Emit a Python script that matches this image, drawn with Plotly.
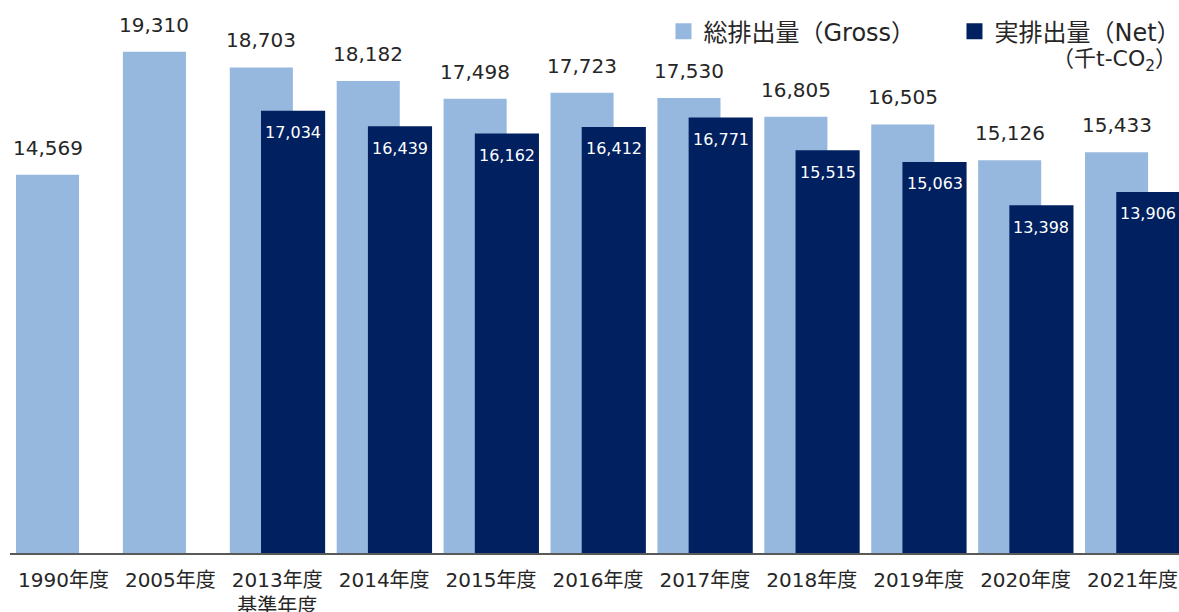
import plotly.graph_objects as go

years = ["1990年度", "2005年度", "2013年度<br>基準年度", "2014年度", "2015年度", "2016年度",
         "2017年度", "2018年度", "2019年度", "2020年度", "2021年度"]
gross = [14569, 19310, 18703, 18182, 17498, 17723, 17530, 16805, 16505, 15126, 15433]
net = [None, None, 17034, 16439, 16162, 16412, 16771, 15515, 15063, 13398, 13906]
unit_label = "（千t-CO<sub>2</sub>）"
gross_name = "総排出量（Gross）"
net_name = "実排出量（Net）"

GROSS_C = "#96B8DF"
NET_C = "#002060"
FONT = "DejaVu Sans, Noto Sans CJK JP"

xs = list(range(len(years)))

fig = go.Figure()
fig.add_trace(go.Bar(x=xs, y=gross, width=0.59, offset=-0.444,
                     marker=dict(color=GROSS_C, line=dict(width=0)),
                     showlegend=False, hoverinfo="y"))
nx = [x for x, v in zip(xs, net) if v is not None]
ny = [v for v in net if v is not None]
fig.add_trace(go.Bar(x=nx, y=ny, width=0.6, offset=-0.152,
                     marker=dict(color=NET_C, line=dict(width=0)),
                     showlegend=False, hoverinfo="y"))

# legend proxies
fig.add_trace(go.Scatter(x=[None], y=[None], mode="markers", name=gross_name,
                         marker=dict(symbol="square", size=16, color=GROSS_C)))
fig.add_trace(go.Scatter(x=[None], y=[None], mode="markers", name=net_name,
                         marker=dict(symbol="square", size=16, color=NET_C)))

annotations = []
for x, v in zip(xs, gross):
    annotations.append(dict(x=x - 0.444 + 0.295, y=v, xref="x", yref="y",
                            text=f"{v:,}", showarrow=False, yanchor="middle",
                            yshift=27, font=dict(size=20, color="#262626", family=FONT)))
for x, v in zip(nx, ny):
    annotations.append(dict(x=x - 0.152 + 0.3, y=v, xref="x", yref="y",
                            text=f"{v:,}", showarrow=False, yanchor="middle",
                            yshift=-22, font=dict(size=16, color="white", family=FONT)))
annotations.append(dict(x=1.0, y=(553 - 61) / 553, xref="paper", yref="paper",
                        text=unit_label, showarrow=False, xanchor="right", yanchor="middle",
                        font=dict(size=22, color="#262626", family=FONT)))

fig.update_layout(
    width=1179, height=612,
    margin=dict(l=10, r=0, t=0, b=59, autoexpand=False),
    paper_bgcolor="white", plot_bgcolor="white",
    barmode="overlay",
    font=dict(family=FONT, color="#262626"),
    xaxis=dict(range=[-0.5, 10.435], tickmode="array", tickvals=xs, ticktext=years,
               showgrid=False, zeroline=False, showline=True, linecolor="#595959",
               linewidth=2, ticks="", ticklabelstandoff=8, automargin=False,
               tickfont=dict(size=20, color="#262626", family=FONT)),
    yaxis=dict(range=[0, 21300], visible=False, showgrid=False, zeroline=False,
               automargin=False),
    legend=dict(orientation="h", x=0.559, xanchor="left", y=0.9835, yanchor="top",
                font=dict(size=24, color="#262626", family=FONT),
                bgcolor="rgba(0,0,0,0)", entrywidth=246, entrywidthmode="pixels",
                itemsizing="trace"),
    annotations=annotations,
    showlegend=True,
)

fig.write_html("out.html", config={"displayModeBar": False},
               post_script="document.body.style.margin='0';document.body.style.overflow='hidden';")
